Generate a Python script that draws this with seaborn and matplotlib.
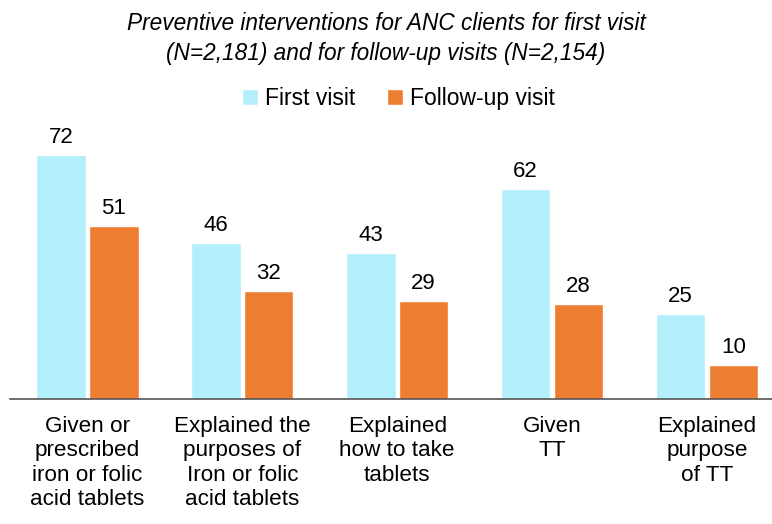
import pandas as pd
import matplotlib
matplotlib.use('Agg')
import matplotlib.pyplot as plt
import seaborn as sns

sns.set_theme(style='white')
plt.rcParams['font.family'] = ['Liberation Sans', 'DejaVu Sans']
plt.rcParams['text.color'] = 'black'
plt.rcParams['xtick.color'] = 'black'

# --- Datos ---
categorias = ['Given or\nprescribed\niron or folic\nacid tablets',
              'Explained the\npurposes of\nIron or folic\nacid tablets',
              'Explained\nhow to take\ntablets',
              'Given\nTT',
              'Explained\npurpose\nof TT']
primera = [72, 46, 43, 62, 25]
seguimiento = [51, 32, 29, 28, 10]
series = ['First visit', 'Follow-up visit']
colores = ['#b3eefb', '#ed7d31']

df = pd.DataFrame({
    'cat': categorias * 2,
    'valor': primera + seguimiento,
    'visita': [series[0]] * len(categorias) + [series[1]] * len(categorias),
})

fig = plt.figure(figsize=(7.72, 5.24), dpi=100)
ax = fig.add_axes([10 / 772, 125 / 524, 762 / 772, 300 / 524])

sns.barplot(data=df, x='cat', y='valor', hue='visita', palette=colores,
            width=0.68, gap=0.06, saturation=1, ax=ax, legend=True)

for cont in ax.containers:
    ax.bar_label(cont, padding=5, fontsize=16, color='black')

ax.set_xlim(-0.5, 4.42)
ax.set_ylim(0, 88.5)
ax.set_xlabel('')
ax.set_ylabel('')
ax.set_yticks([])
ax.tick_params(axis='x', length=0, pad=12, labelsize=16.2)
for lab in ax.get_xticklabels():
    lab.set_linespacing(1.22)
for s in ['top', 'left', 'right']:
    ax.spines[s].set_visible(False)
ax.spines['bottom'].set_color('#555555')
ax.spines['bottom'].set_linewidth(1.2)

ax.legend(loc='upper center', bbox_to_anchor=(0.51, 1.11), ncol=2, frameon=False,
          fontsize=16.5, handlelength=0.7, handleheight=0.7, handletextpad=0.3,
          columnspacing=1.4)

fig.text(0.5, 0.978, 'Preventive interventions for ANC clients for first visit\n'
         '(N=2,181) and for follow-up visits (N=2,154)',
         ha='center', va='top', fontsize=16.3, style='italic', linespacing=1.4)

fig.savefig('out.png', dpi=100)
